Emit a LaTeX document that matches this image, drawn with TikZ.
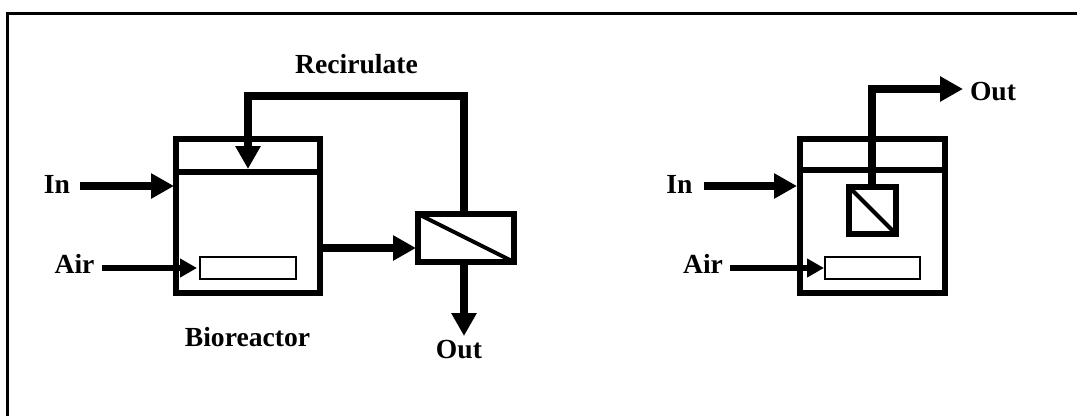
\documentclass[tikz,border=0pt]{standalone}
\usepackage{fontspec}
\setmainfont{Liberation Serif}
\usepackage{tikz}
\usetikzlibrary{arrows.meta,positioning}

\begin{document}
\begin{tikzpicture}[
 x=1pt,y=-1pt,
 vessel/.style={draw,line width=6pt,inner sep=0pt,outer sep=0pt,anchor=north west},
 sparger/.style={draw,line width=1.7pt,inner sep=0pt,outer sep=0pt,anchor=north west,fill=white},
 lbl/.style={font=\fontsize{27.6}{30}\selectfont\bfseries,inner sep=0pt,anchor=base},
 arr/.style={-{Triangle[length=23pt,width=24pt]},line width=8pt},
 airarr/.style={-{Triangle[length=17pt,width=18pt]},line width=6pt}
]
\useasboundingbox (0,0) rectangle (1077,416);
\coordinate (frameSW) at (7.7,416);
\coordinate (frameNW) at (7.7,13.7);
\coordinate (frameNE) at (1077,13.7);
\draw[line width=3pt] (frameSW)--(frameNW)--(frameNE);
% left: bioreactor with external membrane
\node[vessel,minimum width=144pt,minimum height=154pt] (tankL) at (176,138.5) {};
\coordinate (divLw) at (176,172);
\coordinate (divLe) at (320,172);
\draw[line width=6pt] (divLw)--(divLe);
\node[sparger,minimum width=96pt,minimum height=22pt] (spargeL) at (200,257) {};
\node[vessel,minimum width=96pt,minimum height=48pt] (membL) at (418,214) {};
\draw[line width=4pt] (membL.north west)--(membL.south east);
\coordinate (inLs) at (80,186);
\coordinate (inLe) at (174,186);
\coordinate (airLs) at (102,268);
\coordinate (airLe) at (197,268);
\coordinate (topL) at (464,96);
\coordinate (topLw) at (248,96);
\coordinate (retL) at (248,169);
\coordinate (exitL) at (464,336);
\coordinate (feedLs) at (323,248);
\coordinate (feedLe) at (416,248);
\draw[arr] (inLs)--(inLe);
\draw[airarr] (airLs)--(airLe);
\draw[arr] (membL.north -| topL)--(topL)--(topLw)--(retL);
\draw[arr] (feedLs)--(feedLe);
\draw[arr] (membL.south -| exitL)--(exitL);
\node[lbl] (recirc) at (356.5,73) {Recirulate};
\node[lbl] (inL) at (57,193) {In};
\node[lbl] (airL) at (74.5,273) {Air};
\node[lbl] (bio) at (247.5,346) {Bioreactor};
\node[lbl] (outL) at (459,358) {Out};
% right: submerged membrane
\node[vessel,minimum width=144.5pt,minimum height=154pt] (tankR) at (800,138.5) {};
\coordinate (divRw) at (800,170);
\coordinate (divRe) at (944.5,170);
\draw[line width=6pt] (divRw)--(divRe);
\node[sparger,minimum width=95pt,minimum height=22pt] (spargeR) at (825,257) {};
\node[vessel,minimum width=47pt,minimum height=47pt] (membR) at (849,187) {};
\draw[line width=4pt] (membR.north west)--(membR.south east);
\coordinate (inRs) at (704,186);
\coordinate (inRe) at (797,186);
\coordinate (airRs) at (730,268);
\coordinate (airRe) at (824,268);
\coordinate (topR) at (872,89);
\coordinate (exitR) at (963,89);
\draw[arr] (inRs)--(inRe);
\draw[airarr] (airRs)--(airRe);
\draw[arr] (membR.north -| topR)--(topR)--(exitR);
\node[lbl] (inR) at (679.5,193) {In};
\node[lbl] (airR) at (703,273) {Air};
\node[lbl] (outR) at (993,100) {Out};
\end{tikzpicture}
\end{document}
